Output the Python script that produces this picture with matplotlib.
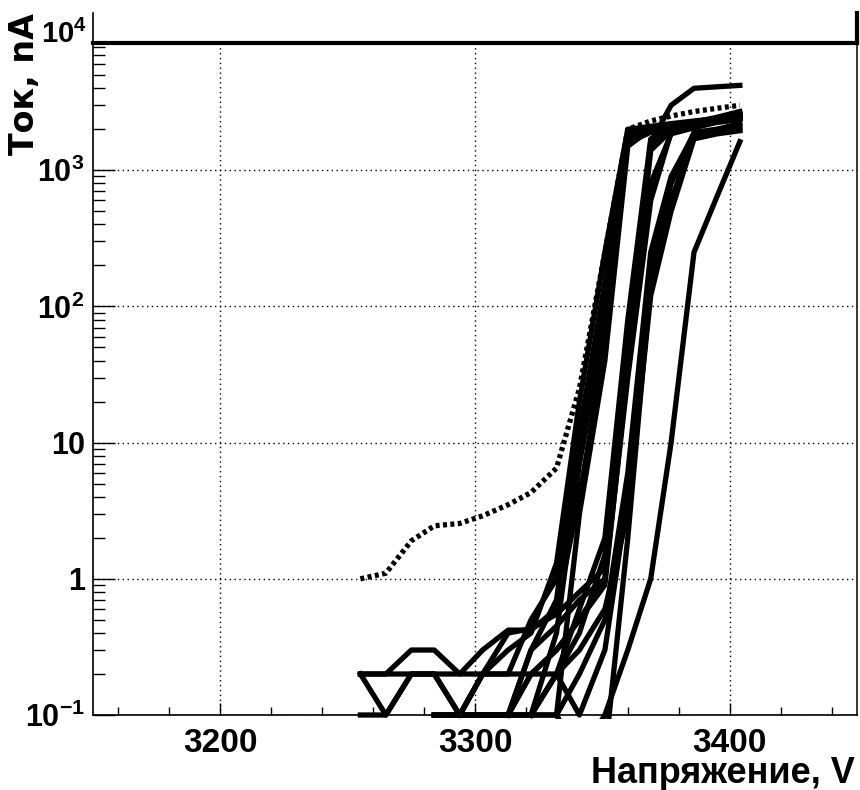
import numpy as np
import matplotlib
matplotlib.use('Agg')
import matplotlib.pyplot as plt
from matplotlib.ticker import MultipleLocator, FixedLocator, FixedFormatter, LogLocator, NullFormatter
from matplotlib.transforms import Bbox, TransformedBbox, blended_transform_factory

plt.rcParams['mathtext.fontset'] = 'custom'
plt.rcParams['mathtext.bf'] = 'Liberation Sans:bold'
plt.rcParams['mathtext.rm'] = 'Liberation Sans'

nan = np.nan

# напряжение, В (точки измерения)
voltage = [3255, 3265, 3275, 3284, 3294, 3303, 3313, 3322, 3332, 3341,
           3351, 3360, 3369, 3377, 3386, 3395, 3404]

# токи каналов, нА
ch01 = [0.2, 0.2, 0.2, 0.2, 0.2, 0.2, 0.2, 0.5, 1.0, 10, 110, 1900, 2050, 2150, 2250, 2350, 2450]
ch02 = [0.2, 0.1, 0.2, 0.2, 0.1, 0.2, 0.4, 0.43, 0.55, 0.8, 1.2, 50, 1500, 2000, 2200, 2400, 2600]
ch03 = [0.2, 0.2, 0.3, 0.3, 0.2, 0.3, 0.42, 0.42, 0.6, 4, 50, 1700, 1950, 2100, 2200, 2300, 2400]
ch04 = [0.1, 0.1, 0.2, 0.2, 0.1, 0.2, 0.2, 0.2, 0.3, 0.5, 1.0, 30, 600, 1900, 2100, 2300, 2500]
ch05 = [nan, nan, nan, 0.1, 0.1, 0.1, 0.1, 0.3, 0.45, 0.7, 1.0, 40, 1400, 1950, 2150, 2300, 2450]
ch06 = [nan, nan, nan, 0.1, 0.1, 0.1, 0.1, 0.1, 0.1, 3, 40, 1500, 2000, 2150, 2250, 2400, 2550]
ch07 = [nan, nan, nan, 0.1, 0.1, 0.1, 0.1, 0.1, 0.2, 0.4, 1.5, 60, 1600, 3000, 4000, 4100, 4200]
ch08 = [nan, nan, nan, 0.1, 0.1, 0.1, 0.1, 0.1, 0.1, 0.05, 0.05, 2, 150, 600, 1800, 1900, 2000]
ch09 = [nan, nan, nan, nan, nan, nan, 0.1, 0.2, 0.2, 0.1, 0.3, 4, 200, 800, 1900, 2000, 2100]
ch10 = [nan, nan, nan, nan, nan, nan, nan, 0.1, 0.2, 0.3, 0.6, 3, 120, 500, 1700, 1850, 1950]
ch11 = [nan, nan, nan, nan, nan, nan, nan, nan, nan, 0.05, 0.1, 0.3, 1, 10, 250, 640, 1620]
ch12 = [nan, nan, nan, nan, 0.1, 0.2, 0.3, 0.4, 1.3, 20, 250, 2000, 2100, 2200, 2300, 2400, 2500]
ch13 = [nan, nan, nan, nan, nan, 0.1, 0.1, 0.2, 0.3, 0.5, 0.9, 35, 800, 1850, 2050, 2250, 2400]
ch14 = [nan, nan, nan, nan, nan, nan, nan, 0.1, 0.4, 7, 70, 1600, 1900, 2050, 2150, 2250, 2350]
ch15 = [nan, nan, nan, nan, nan, nan, 0.1, 0.3, 0.7, 12, 150, 1850, 2000, 2100, 2200, 2300, 2400]
ch16 = [nan, nan, nan, nan, nan, nan, nan, 0.1, 0.2, 0.6, 2, 80, 1700, 2050, 2250, 2450, 2700]
ch17 = [nan, nan, nan, nan, nan, nan, nan, nan, 0.1, 0.2, 0.5, 6, 250, 900, 1850, 2000, 2200]
channels = [ch01, ch02, ch03, ch04, ch05, ch06, ch07, ch08, ch09, ch10,
            ch11, ch12, ch13, ch14, ch15, ch16, ch17]

# канал с током утечки (пунктир)
ch_leak = [1.0, 1.1, 1.9, 2.45, 2.55, 2.9, 3.5, 4.3, 6.5, 25, 250, 2000, 2300, 2500, 2700, 2850, 3000]

fig = plt.figure(figsize=(8.6, 7.9), dpi=100)
ax = fig.add_axes([93 / 860, 75 / 790, 764 / 860, 672 / 790])
ax.set_yscale('log')
ax.set_xlim(3150, 3450)
ax.set_ylim(0.1, 8600)

# линии чуть выходят за нижнюю рамку, как в ROOT
clip = TransformedBbox(Bbox([[0, -0.006], [1, 1]]), ax.transAxes)

ln, = ax.plot(voltage, ch_leak, color='black', lw=3.8, linestyle=(0, (0.75, 0.65)))
ln.set_clip_path(None)
ln.set_clip_box(clip)
for ch in channels:
    ln, = ax.plot(voltage, ch, color='black', lw=3.8)
    ln.set_clip_path(None)
    ln.set_clip_box(clip)

# рамка
ax.spines['top'].set_linewidth(3.0)
ax.spines['left'].set_linewidth(1.2)
ax.spines['bottom'].set_linewidth(1.2)
ax.spines['right'].set_linewidth(1.1)
ext = 30 / 672
ax.plot([0, 0], [1, 1 + ext], transform=ax.transAxes, color='black', lw=1.2, clip_on=False)
ax.plot([1, 1], [1, 1 + ext], transform=ax.transAxes, color='black', lw=3.0, clip_on=False)

# оси
ax.xaxis.set_major_locator(MultipleLocator(100))
ax.xaxis.set_minor_locator(MultipleLocator(20))
ax.yaxis.set_major_locator(FixedLocator([0.1, 1, 10, 100, 1000]))
ax.yaxis.set_major_formatter(FixedFormatter([r'$\mathbf{10^{-1}}$', '1', '10',
                                             r'$\mathbf{10^{2}}$', r'$\mathbf{10^{3}}$']))
ax.yaxis.set_minor_locator(LogLocator(base=10, subs=np.arange(2, 10), numticks=20))
ax.yaxis.set_minor_formatter(NullFormatter())

ax.tick_params(axis='both', which='both', direction='in', top=False, right=False,
               width=1.0, colors='black')
ax.tick_params(axis='y', which='major', length=16, pad=6)
ax.tick_params(axis='y', which='minor', length=8.5)
ax.tick_params(axis='x', which='major', length=9, pad=9)
ax.tick_params(axis='x', which='minor', length=6)
for lab in ax.get_xticklabels():
    lab.set_fontfamily('Liberation Sans')
    lab.set_fontweight('bold')
    lab.set_fontsize(24)
for lab in ax.get_yticklabels():
    lab.set_fontfamily('Liberation Sans')
    lab.set_fontweight('bold')
    lab.set_fontsize(22)

# подпись 10^4 над рамкой
trans = blended_transform_factory(ax.transAxes, ax.transData)
ax.text(-6 / 764, 1e4, r'$\mathbf{10^{4}}$', transform=trans, ha='right', va='center',
        fontsize=21, clip_on=False)

ax.grid(which='major', color='black', linestyle=(0, (1, 2.5)), linewidth=1.0)
ax.set_axisbelow(False)

ax.set_xlabel('Напряжение, V', fontsize=26, fontweight='bold', family=['Liberation Sans'])
ax.xaxis.label.set_ha('right')
ax.xaxis.label.set_va('center')
ax.xaxis.set_label_coords(0.997, -0.087)

ax.set_ylabel('Ток, nA', fontsize=24, fontweight='bold', family=['DejaVu Sans'])
ax.yaxis.label.set_rotation_mode('default')
ax.yaxis.label.set_ha('center')
ax.yaxis.label.set_va('top')
ax.yaxis.set_label_coords(-0.09, 1.045)

fig.savefig('out.png', dpi=100)
